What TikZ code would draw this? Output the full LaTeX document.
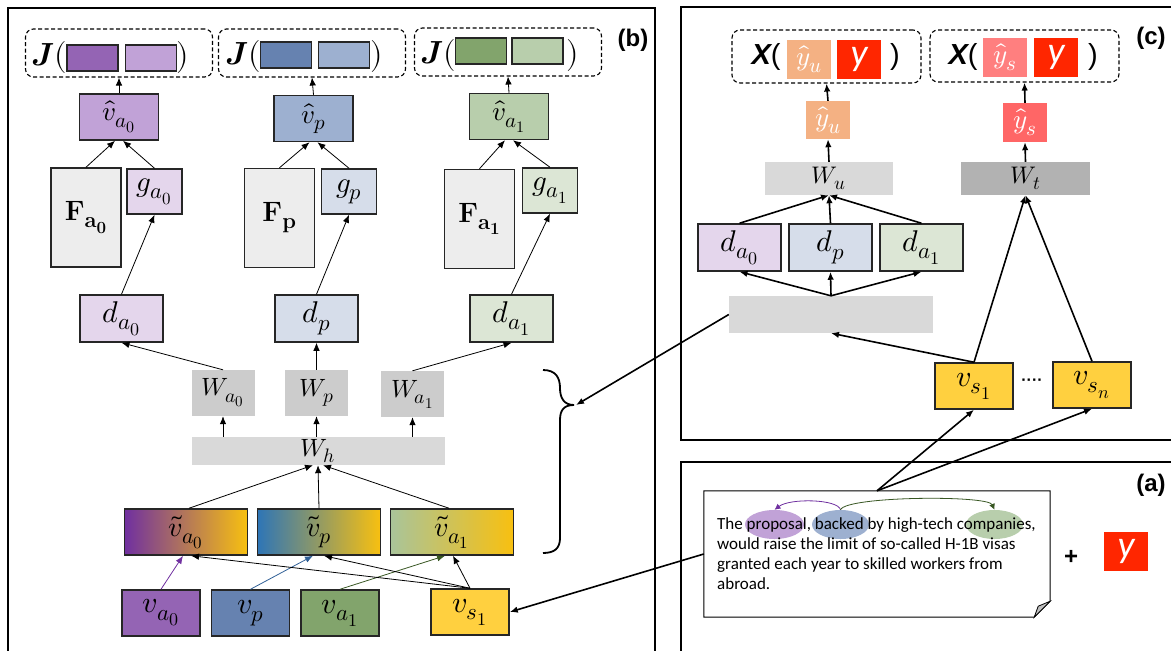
\documentclass[tikz,border=0pt]{standalone}
\usepackage{fontspec}
\usepackage{unicode-math}
\setmathfont{Latin Modern Math}
\DeclareMathSizes{24}{24}{19}{15}
\DeclareMathSizes{25}{25}{19.5}{15}
\DeclareMathSizes{27}{27}{21}{16}
\DeclareMathSizes{28}{28}{22}{17}
\DeclareMathSizes{29}{29}{22.5}{17}
\DeclareMathSizes{30}{30}{23}{18}
\newfontfamily\notefont{Carlito}
\newfontfamily\labelfont{Liberation Sans}
\usepackage{xcolor}
\usepackage{tikz}
\usetikzlibrary{arrows.meta,positioning,calc,shapes.geometric}

\definecolor{purdark}{HTML}{9464B4}
\definecolor{purmid}{HTML}{C1A2D7}
\definecolor{purlight}{HTML}{E4D6EC}
\definecolor{bludark}{HTML}{6682B0}
\definecolor{blumid}{HTML}{9DB0D0}
\definecolor{blulight}{HTML}{D6DDEA}
\definecolor{grndark}{HTML}{82A46C}
\definecolor{grnmid}{HTML}{B8CEAC}
\definecolor{grnlight}{HTML}{DCE6D5}
\definecolor{gold}{HTML}{FFD03F}
\definecolor{goldend}{HTML}{F8C010}
\definecolor{fgray}{HTML}{EDEDED}
\definecolor{wgray}{HTML}{CCCCCC}
\definecolor{hgray}{HTML}{D9D9D9}
\definecolor{tgray}{HTML}{B2B2B2}
\definecolor{peach}{HTML}{F4B183}
\definecolor{salmon}{HTML}{FF6666}
\definecolor{salmonlt}{HTML}{FF7F7F}
\definecolor{redy}{HTML}{FF2600}
\definecolor{purarrow}{HTML}{7030A0}
\definecolor{bluarrow}{HTML}{2F5F96}
\definecolor{grnarrow}{HTML}{385723}

\begin{document}
\begin{tikzpicture}[
    x=1pt, y=-1pt,
    >={Latex[length=8pt,width=6.5pt]},
    cell/.style={rectangle, draw=black!85, line width=1.5pt, inner sep=0pt, font=\fontsize{28}{30}\selectfont},
    fcell/.style={cell, fill=fgray, minimum width=70pt, minimum height=99pt, font=\fontsize{28}{30}\selectfont},
    gcell/.style={cell, minimum width=55pt, minimum height=45pt, font=\fontsize{29}{30}\selectfont},
    vcell/.style={cell, minimum width=78pt, minimum height=46pt, font=\fontsize{30}{32}\selectfont},
    dcell/.style={cell, minimum width=83pt, minimum height=47pt, font=\fontsize{30}{32}\selectfont},
    tcell/.style={cell, minimum width=123pt, minimum height=46pt, font=\fontsize{28}{30}\selectfont},
    hcell/.style={cell, minimum width=79pt, minimum height=46pt, font=\fontsize{27}{30}\selectfont},
    wcell/.style={rectangle, fill=wgray, inner sep=0pt, minimum width=63pt, minimum height=46pt, font=\fontsize{25}{28}\selectfont},
    bar/.style={rectangle, fill=hgray, inner sep=0pt, font=\fontsize{25}{28}\selectfont},
    loss/.style={rectangle, draw, line width=1.1pt, dash pattern=on 4pt off 2.5pt, rounded corners=8pt, minimum width=187pt, minimum height=48pt},
    swatch/.style={rectangle, draw=black!85, line width=1.5pt, minimum width=51pt, minimum height=26pt, inner sep=0pt},
    ybox/.style={rectangle, inner sep=0pt, minimum width=44pt, minimum height=39pt, text=white, font=\fontsize{27}{30}\selectfont},
    jtext/.style={inner sep=0pt, font=\fontsize{32}{34}\selectfont},
    xtext/.style={inner sep=0pt, font=\labelfont\fontsize{29}{32}\selectfont},
    thinarrow/.style={->, line width=0.8pt},
    arrow/.style={->, line width=1.6pt},
    panel/.style={draw, line width=2.2pt},
    paneltag/.style={font=\labelfont\bfseries\fontsize{24}{28}\selectfont},
    word/.style={ellipse, inner sep=0pt}
]
\useasboundingbox (0,0) rectangle (1171,651);

% Panels
\draw[panel] (8,8) rectangle (655,670);
\draw[panel] (681,7) rectangle (1190,440);
\draw[panel] (681,462) rectangle (1190,670);
\node[paneltag] (tagb) at (633,40) {(b)};
\node[paneltag] (tagc) at (1151,38) {(c)};
\node[paneltag] (taga) at (1151,485) {(a)};

% (b) Losses
\node[loss] (ja0) at (119,53) {};
\node[jtext] (ja0open) at (49,57) {$\symbfit{J}($};
\node[swatch, fill=purdark] (ja0l) at (92.5,58) {};
\node[swatch, fill=purmid] (ja0r) at (151,58) {};
\node[jtext] (ja0close) at (183,57) {$)$};

\node[loss] (jp) at (312,53) {};
\node[jtext] (jpopen) at (243,56) {$\symbfit{J}($};
\node[swatch, fill=bludark] (jpl) at (286,55) {};
\node[swatch, fill=blumid] (jpr) at (344,55) {};
\node[jtext] (jpclose) at (377,56) {$)$};

\node[loss] (ja1) at (508,52) {};
\node[jtext] (ja1open) at (438,55) {$\symbfit{J}($};
\node[swatch, fill=grndark] (ja1l) at (481,51) {};
\node[swatch, fill=grnmid] (ja1r) at (537.5,51) {};
\node[jtext] (ja1close) at (573,55) {$)$};

% (b) Reconstructions
\node[hcell, fill=purmid] (vha0) at (119,117) {$\hat{v}_{a_0}$};
\node[hcell, fill=blumid] (vhp) at (313.5,118.5) {$\hat{v}_{p}$};
\node[hcell, fill=grnmid] (vha1) at (509,116.5) {$\hat{v}_{a_1}$};

\node[fcell] (fa0) at (86,217.5) {$\mathbf{F_{a_0}}$};
\node[gcell, fill=purlight] (ga0) at (154.5,191.5) {$g_{a_0}$};
\node[fcell] (fp) at (279.5,218) {$\mathbf{F_{p}}$};
\node[gcell, fill=blulight] (gp) at (349,191.5) {$g_{p}$};
\node[fcell] (fa1) at (479.5,219) {$\mathbf{F_{a_1}}$};
\node[gcell, fill=grnlight] (ga1) at (550,190.5) {$g_{a_1}$};

\node[dcell, fill=purlight] (da0) at (121.5,318.5) {$d_{a_0}$};
\node[dcell, fill=blulight] (dp) at (316.5,318.5) {$d_{p}$};
\node[dcell, fill=grnlight] (da1) at (511.5,318.5) {$d_{a_1}$};

% (b) Shared encoder
\node[wcell] (wa0) at (223,393) {$W_{a_0}$};
\node[wcell] (wp) at (316.5,393) {$W_{p}$};
\node[wcell] (wa1) at (412.5,394) {$W_{a_1}$};
\node[bar, minimum width=253pt, minimum height=28pt] (wh) at (318,451) {$W_h$};

\node[tcell, left color=purarrow, middle color={rgb,255:red,214;green,156;blue,200}, right color=goldend] (tva0) at (186,532) {$\tilde{v}_{a_0}$};
\node[tcell, right=8.5pt of tva0, left color={rgb,255:red,46;green,117;blue,182}, middle color={rgb,255:red,157;green,195;blue,230}, right color=goldend] (tvp) {$\tilde{v}_{p}$};
\node[tcell, right=8.5pt of tvp, left color={rgb,255:red,169;green,196;blue,154}, middle color={rgb,255:red,206;green,221;blue,203}, right color=goldend] (tva1) {$\tilde{v}_{a_1}$};

\node[vcell, fill=purdark] (va0) at (161,613) {$v_{a_0}$};
\node[vcell, fill=bludark, right=10pt of va0] (vp) {$v_{p}$};
\node[vcell, fill=grndark, right=10pt of vp] (va1) {$v_{a_1}$};
\node[vcell, fill=gold] (vs1b) at (470,612) {$v_{s_1}$};

% (b) Arrows
\draw[thinarrow] (vha0.north) -- (ja0.south);
\draw[thinarrow] (vhp.north) -- (jp.south);
\draw[thinarrow] (vha1.north) -- (ja1.south);
\draw[thinarrow] (fa0.north) -- ([xshift=-4pt]vha0.south);
\draw[thinarrow] (ga0.north) -- ([xshift=4pt]vha0.south);
\draw[thinarrow] (fp.north) -- ([xshift=-4pt]vhp.south);
\draw[thinarrow] (gp.north) -- ([xshift=4pt]vhp.south);
\draw[thinarrow] (fa1.north) -- ([xshift=-4pt]vha1.south);
\draw[thinarrow] (ga1.north) -- ([xshift=4pt]vha1.south);
\draw[thinarrow] (da0.north) -- (ga0.south);
\draw[thinarrow] (dp.north) -- (gp.south);
\draw[thinarrow] (da1.north) -- (ga1.south);
\draw[thinarrow] (wa0.north) -- (da0.south);
\draw[thinarrow] (wp.north) -- (dp.south);
\draw[thinarrow] (wa1.north) -- (da1.south);
\draw[thinarrow] (wa0.south |- wh.north) -- (wa0.south);
\draw[thinarrow] (wp.south |- wh.north) -- (wp.south);
\draw[thinarrow] (wa1.south |- wh.north) -- (wa1.south);
\draw[thinarrow] ([xshift=3pt]tva0.north) -- ([xshift=-5pt]wh.south);
\draw[thinarrow] (tvp.north) -- (wh.south);
\draw[thinarrow] ([xshift=-3pt]tva1.north) -- ([xshift=5pt]wh.south);
\draw[thinarrow, draw=purarrow] (va0.north) -- ([xshift=-3pt]tva0.south);
\draw[thinarrow, draw=bluarrow] (vp.north) -- ([xshift=-6pt]tvp.south);
\draw[thinarrow, draw=grnarrow] (va1.north) -- ([xshift=-7pt]tva1.south);
\draw[thinarrow] (vs1b.north) -- ([xshift=5pt]tva0.south);
\draw[thinarrow] (vs1b.north) -- ([xshift=5pt]tvp.south);
\draw[thinarrow] (vs1b.north) -- ([xshift=1pt]tva1.south);

% Brace over the encoder
\draw[line width=1.8pt] (543,370) .. controls (556,370) and (560,378) .. (560,388)
    .. controls (560,398) and (564,405) .. (574,405)
    .. controls (564,405) and (560,410) .. (560,420) -- (560,538)
    .. controls (560,548) and (555,553) .. (543,553);
\coordinate (bracetip) at (576,405);

% (c) Losses
\node[loss, minimum width=189pt, minimum height=53pt] (xu) at (826.5,56.5) {};
\node[xtext] (xuopen) at (766,57) {{\bfseries\itshape X}(};
\node[ybox, fill=peach] (xuyu) at (809,59.5) {$\hat{y}_u$};
\node[ybox, fill=redy, font=\notefont\itshape\fontsize{38}{40}\selectfont] (xuy) at (859,59.5) {y};
\node[xtext] (xuclose) at (895,57) {)};

\node[loss, minimum width=189pt, minimum height=52pt] (xs) at (1024.5,56) {};
\node[xtext] (xsopen) at (963,57) {{\bfseries\itshape X}(};
\node[ybox, fill=salmonlt] (xsys) at (1005,57.5) {$\hat{y}_s$};
\node[ybox, fill=redy, font=\notefont\itshape\fontsize{38}{40}\selectfont] (xsy) at (1056,57.5) {y};
\node[xtext] (xsclose) at (1093,57) {)};

% (c) Classifiers
\node[ybox, fill=peach, minimum height=38pt] (yu) at (828,120) {$\hat{y}_u$};
\node[ybox, fill=salmon] (ys) at (1025,122.5) {$\hat{y}_s$};
\node[bar, minimum width=128pt, minimum height=33pt, font=\fontsize{24}{26}\selectfont] (wu) at (829,178.5) {$W_u$};
\node[bar, fill=tgray, minimum width=129pt, minimum height=33pt, font=\fontsize{24}{26}\selectfont] (wt) at (1025.5,178.5) {$W_t$};

\node[dcell, fill=purlight] (dca0) at (739.5,247.5) {$d_{a_0}$};
\node[dcell, fill=blulight, right=6.5pt of dca0] (dcp) {$d_{p}$};
\node[dcell, fill=grnlight, right=6.5pt of dcp] (dca1) {$d_{a_1}$};
\node[bar, minimum width=204pt, minimum height=37pt] (encbar) at (831,314.5) {};

\node[vcell, fill=gold] (vsc1) at (974,386) {$v_{s_1}$};
\node[vcell, fill=gold] (vscn) at (1092,385) {$v_{s_n}$};
\node[inner sep=0pt, font=\labelfont\bfseries\fontsize{16}{18}\selectfont] (dots) at (1032,382) {····};

% (c) Arrows
\draw[arrow] (yu.north) -- (xu.south);
\draw[arrow] (ys.north) -- (xs.south);
\draw[arrow] (wu.north) -- (yu.south);
\draw[arrow] (wt.north) -- (ys.south);
\draw[arrow] (dca0.north) -- (wu.south);
\draw[arrow] (dcp.north) -- (wu.south);
\draw[arrow] (dca1.north) -- (wu.south);
\draw[arrow] (encbar.north) -- (dca0.south);
\draw[arrow] (encbar.north) -- (dcp.south);
\draw[arrow] (encbar.north) -- (dca1.south);
\draw[arrow] (vsc1.north) -- (wt.south);
\draw[arrow] (vscn.north) -- (wt.south);
\draw[arrow] (vsc1.north) -- (encbar.south);

% (a) Input
\node[rectangle, minimum width=346pt, minimum height=126pt, inner sep=0pt] (note) at (877,554) {};
\draw[line width=1pt, fill=white] (note.north west) -- (note.north east) -- ([yshift=16pt]note.south east)
    -- ([xshift=-16pt]note.south east) -- (note.south west) -- cycle;
\draw[line width=0.8pt, fill=black!25] ([yshift=16pt]note.south east) -- ([xshift=-16pt]note.south east)
    -- ([xshift=-12pt, yshift=11pt]note.south east) -- cycle;
\node[word, fill=purmid, minimum width=59pt, minimum height=29pt] (proposal) at (774.5,524.5) {};
\node[word, fill=blumid, minimum width=57pt, minimum height=29pt] (backed) at (840.5,524.5) {};
\node[word, fill=grnmid, minimum width=57pt, minimum height=29pt] (companies) at (994.5,524.5) {};
\draw[->, >={Latex[length=6pt,width=6pt]}, purarrow, line width=0.8pt] (backed.north)
    .. controls (838,499) and (790,498) .. (proposal.north);
\draw[->, >={Latex[length=6pt,width=6pt]}, grnarrow, line width=0.8pt] (backed.north)
    .. controls (846,496) and (988,495) .. (companies.north);
\node[anchor=north west, inner sep=0pt, align=left, font=\notefont\fontsize{17}{20}\selectfont] (sentence) at (717,517)
    {The proposal, backed by high-tech companies,\\would raise the limit of so-called H-1B visas\\granted each year to skilled workers from\\abroad.};
\node[inner sep=0pt, font=\labelfont\bfseries\fontsize{24}{28}\selectfont] (plus) at (1071,557) {+};
\node[ybox, fill=redy, font=\notefont\itshape\fontsize{38}{40}\selectfont] (label) at (1126,551.5) {y};

% Cross-panel arrows
\draw[arrow] (note.north) -- (vsc1.south);
\draw[arrow] (note.north) -- (vscn.south);
\draw[arrow] (note.west) -- (vs1b.east);
\draw[arrow] (encbar.west) -- (bracetip);

\end{tikzpicture}
\end{document}
